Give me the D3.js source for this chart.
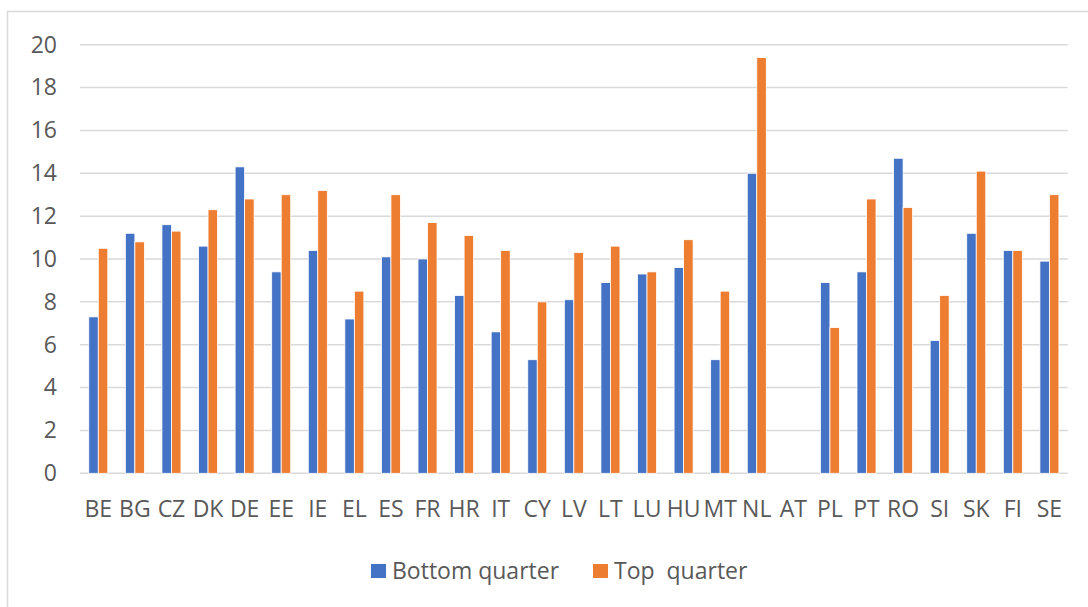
<!DOCTYPE html>
<html>
<head>
<meta charset="utf-8">
<script src="https://cdn.jsdelivr.net/npm/d3@7"></script>
<style>
  html, body { margin: 0; padding: 0; background: #fff; }
  svg { display: block; }
  text { font-family: "Open Sans", sans-serif; fill: #595959; }
</style>
</head>
<body>
<div id="chart"></div>
<script>
// Data
const countries = ["BE", "BG", "CZ", "DK", "DE", "EE", "IE", "EL", "ES", "FR", "HR", "IT", "CY", "LV",
  "LT", "LU", "HU", "MT", "NL", "AT", "PL", "PT", "RO", "SI", "SK", "FI", "SE"];
const seriesNames = ["Bottom quarter", "Top  quarter"];
const bottomQuarter = [7.3, 11.2, 11.6, 10.6, 14.3, 9.4, 10.4, 7.2, 10.1, 10.0, 8.3, 6.6, 5.3, 8.1,
  8.9, 9.3, 9.6, 5.3, 14.0, null, 8.9, 9.4, 14.7, 6.2, 11.2, 10.4, 9.9];
const topQuarter = [10.5, 10.8, 11.3, 12.3, 12.8, 13.0, 13.2, 8.5, 13.0, 11.7, 11.1, 10.4, 8.0, 10.3,
  10.6, 9.4, 10.9, 8.5, 19.4, null, 6.8, 12.8, 12.4, 8.3, 14.1, 10.4, 13.0];
const yTicks = [0, 2, 4, 6, 8, 10, 12, 14, 16, 18, 20];
const colors = ["#4472C4", "#ED7D31"];

// Layout
const width = 1088, height = 607;
const margin = {top: 44.7, right: 20.3, bottom: 133.7, left: 80};
const innerW = width - margin.left - margin.right;
const innerH = height - margin.top - margin.bottom;
const fontSize = "23px";

const svg = d3.select("#chart").append("svg")
  .attr("width", width)
  .attr("height", height);

// Chart frame
svg.append("rect")
  .attr("x", 7.5).attr("y", 11.5)
  .attr("width", width).attr("height", height)
  .attr("fill", "none")
  .attr("stroke", "#d9d9d9")
  .attr("stroke-width", 1.5);

const g = svg.append("g")
  .attr("transform", `translate(${margin.left},${margin.top})`);

const x0 = d3.scaleBand()
  .domain(countries)
  .range([0, innerW])
  .paddingInner(0.48)
  .paddingOuter(0.24);

const x1 = d3.scaleBand()
  .domain([0, 1])
  .range([0, x0.bandwidth()]);

const y = d3.scaleLinear()
  .domain([0, 20])
  .range([innerH, 0]);

// Gridlines
g.append("g")
  .selectAll("line")
  .data(yTicks)
  .join("line")
    .attr("x1", 0)
    .attr("x2", innerW)
    .attr("y1", d => y(d))
    .attr("y2", d => y(d))
    .attr("stroke", "#d9d9d9")
    .attr("stroke-width", 1.5);

// Y axis labels
const yAxis = d3.axisLeft(y).tickValues(yTicks).tickSize(0).tickPadding(23);
g.append("g")
  .call(yAxis)
  .call(a => a.select(".domain").remove())
  .call(a => a.selectAll("text")
    .attr("fill", "#595959")
    .style("font-size", fontSize)
    .style("font-family", "'Open Sans', sans-serif"));

// X axis labels
const xAxis = d3.axisBottom(x0).tickSize(0).tickPadding(27);
g.append("g")
  .attr("transform", `translate(0,${innerH})`)
  .call(xAxis)
  .call(a => a.select(".domain").remove())
  .call(a => a.selectAll("text")
    .attr("fill", "#595959")
    .style("font-size", fontSize)
    .style("font-family", "'Open Sans', sans-serif"));

// Bars
const rows = countries.map((c, i) => ({country: c, values: [bottomQuarter[i], topQuarter[i]]}));

g.append("g")
  .selectAll("g")
  .data(rows)
  .join("g")
    .attr("transform", d => `translate(${x0(d.country)},0)`)
  .selectAll("rect")
  .data(d => d.values.map((v, k) => ({k, v})).filter(e => e.v != null))
  .join("rect")
    .attr("x", d => x1(d.k))
    .attr("y", d => y(d.v))
    .attr("width", x1.bandwidth())
    .attr("height", d => innerH - y(d.v))
    .attr("fill", d => colors[d.k])
    .attr("stroke", "#fff")
    .attr("stroke-width", 0.8);

// Legend
const legend = svg.append("g")
  .attr("transform", "translate(0,571)");

const legendX = [371, 593];
const items = legend.selectAll("g")
  .data(seriesNames)
  .join("g")
    .attr("transform", (d, i) => `translate(${legendX[i]},0)`);

items.append("rect")
  .attr("x", 0).attr("y", -7)
  .attr("width", 15).attr("height", 14)
  .attr("fill", (d, i) => colors[i]);

items.append("text")
  .attr("x", 21)
  .attr("dy", "0.35em")
  .style("font-size", fontSize)
  .style("white-space", "pre")
  .attr("xml:space", "preserve")
  .text(d => d);
</script>
</body>
</html>
